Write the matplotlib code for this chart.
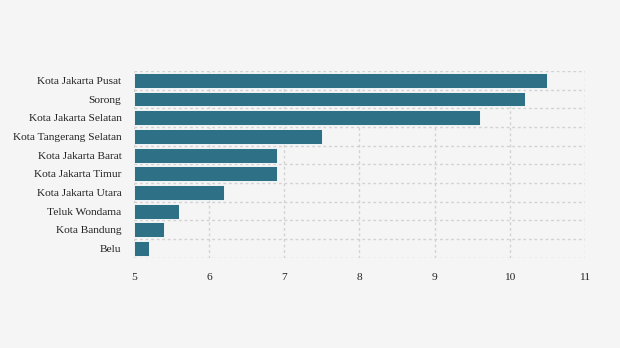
import matplotlib
matplotlib.use("Agg")
import matplotlib.pyplot as plt
import numpy as np

# data, top to bottom
kota = ["Kota Jakarta Pusat", "Sorong", "Kota Jakarta Selatan", "Kota Tangerang Selatan",
        "Kota Jakarta Barat", "Kota Jakarta Timur", "Kota Jakarta Utara", "Teluk Wondama",
        "Kota Bandung", "Belu"]
nilai = [10.5, 10.2, 9.6, 7.5, 6.9, 6.9, 6.2, 5.6, 5.4, 5.2]
xticks = [5, 6, 7, 8, 9, 10, 11]

plt.rcParams['font.family'] = ['Liberation Serif', 'DejaVu Serif']

bg = '#f5f5f5'
fig = plt.figure(figsize=(6.2, 3.48), dpi=100, facecolor=bg)
ax = fig.add_axes([0.216, 0.259, 0.7275, 0.537])
ax.set_facecolor(bg)

y = np.arange(len(kota))[::-1]
base = xticks[0]
ax.barh(y, np.array(nilai) - base, left=base, height=0.8, color='#2e7085',
        edgecolor='white', linewidth=0.6, zorder=3)

ax.set_xlim(xticks[0], xticks[-1])
ax.set_ylim(-0.5, len(kota) - 0.5)
ax.set_xticks(xticks)
ax.set_yticks(y)
ax.set_yticklabels(kota)

# grid: vertical at each tick, horizontal between bars
for xv in xticks:
    ax.axvline(xv, color='#d2d2d2', linestyle=(0, (2, 2)), linewidth=1.0, zorder=1)
for yv in np.arange(-0.5, len(kota), 1.0):
    ax.axhline(yv, color='#d2d2d2', linestyle=(0, (2, 2)), linewidth=1.0, zorder=1)

for s in ax.spines.values():
    s.set_visible(False)
ax.tick_params(axis='both', length=0, labelsize=8.2, colors='#222222')
ax.tick_params(axis='x', pad=11)
ax.tick_params(axis='y', pad=9)

fig.savefig('out.png', dpi=100, facecolor=bg)
